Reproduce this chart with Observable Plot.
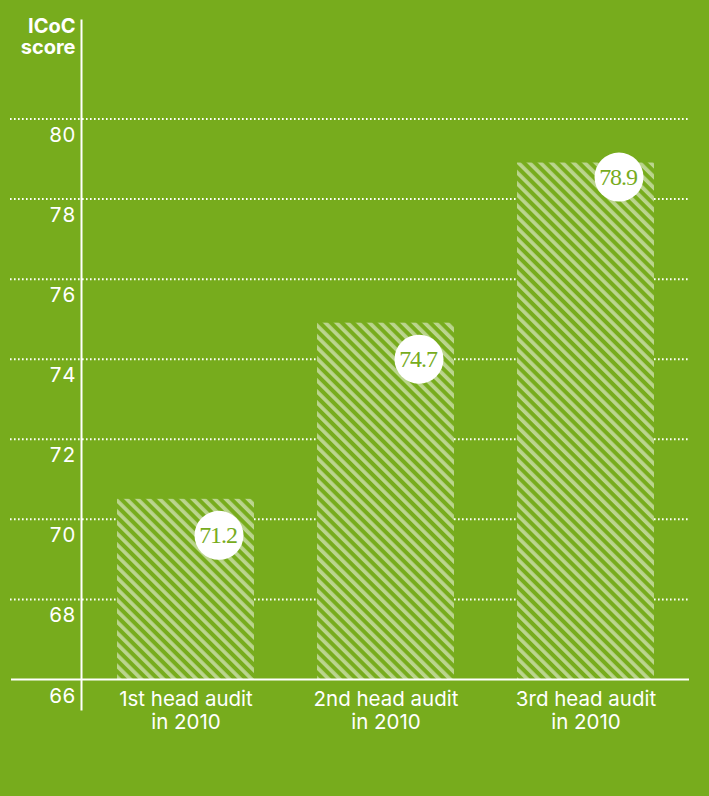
<!DOCTYPE html>
<html><head><meta charset="utf-8">
<script src="https://cdn.jsdelivr.net/npm/d3@7"></script>
<script src="https://cdn.jsdelivr.net/npm/@observablehq/plot@0.6"></script>
<style>
html,body{margin:0;padding:0;background:#77ac1d;overflow:hidden;}
.vlabel text{letter-spacing:-1.1px;}
</style>
</head><body><div id="chart"></div>
<script>
const categories = ["1st head audit\nin 2010", "2nd head audit\nin 2010", "3rd head audit\nin 2010"];
const barValues = [70.5, 74.9, 78.9];
const valueLabels = ["71.2", "74.7", "78.9"];
const labelAnchors = [69.6, 74.0, 78.55];
const yTicks = [66, 68, 70, 72, 74, 76, 78, 80];
const yTitle = "ICoC\nscore";

const data = categories.map((c, i) => ({category: c, value: barValues[i], label: valueLabels[i], at: labelAnchors[i]}));
const GREEN = "#77ac1d";
const LIGHT = "#bbd58e";

const hatchDefs = () => {
  const defs = d3.create("svg:defs");
  const s = 7.8;
  const p = defs.append("pattern")
    .attr("id", "hatch")
    .attr("patternUnits", "userSpaceOnUse")
    .attr("width", s).attr("height", s)
    .attr("patternTransform", "rotate(-45)");
  p.append("rect").attr("width", s).attr("height", s).attr("fill", GREEN);
  p.append("rect").attr("width", s * 0.48).attr("height", s).attr("fill", LIGHT);
  return defs.node();
};

const chart = Plot.plot({
  width: 709, height: 796,
  marginTop: 20, marginBottom: 117, marginLeft: 81, marginRight: 20,
  style: {background: GREEN, color: "white", fontFamily: "Inter, Roboto, sans-serif", fontSize: "20px"},
  x: {domain: categories, paddingInner: 0.317, paddingOuter: 0.175},
  y: {domain: [66, 82.46]},
  marks: [
    hatchDefs,
    Plot.ruleY(yTicks.filter(t => t > 66), {stroke: "white", strokeWidth: 2, strokeDasharray: "1.6,2.4", insetLeft: -71, insetRight: -1}),
    Plot.barY(data, {x: "category", y1: 66, y2: "value", fill: "url(#hatch)"}),
    Plot.ruleY([66], {stroke: "white", strokeWidth: 2, insetLeft: -70}),
    Plot.frame({anchor: "left", stroke: "white", strokeWidth: 2, insetBottom: -30}),
    Plot.axisY({ticks: yTicks, tickSize: 0, tickPadding: 6, dy: 16.5, fontSize: 20.5, label: null}),
    Plot.axisX({tickSize: 0, tickPadding: 10, fontSize: 20.5, lineHeight: 1.12, label: null}),
    Plot.text([yTitle], {frameAnchor: "top-left", textAnchor: "end", lineAnchor: "top", dx: -6, dy: -3, fontWeight: "bold", fontSize: 20, lineHeight: 1.08, fill: "white"}),
    Plot.dot(data, {x: "category", y: "at", r: 24.5, fill: "white", stroke: null, dx: 33}),
    Plot.text(data, {x: "category", y: "at", text: "label", dx: 32, fill: GREEN, fontFamily: "Liberation Serif, serif", fontSize: 24, className: "vlabel"})
  ]
});
document.getElementById("chart").appendChild(chart);
</script>
</body></html>
